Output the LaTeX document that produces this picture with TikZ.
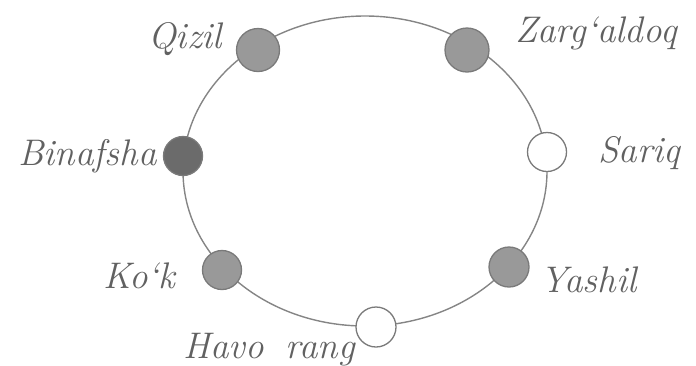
\documentclass[tikz,border=0pt]{standalone}
\usepackage{fontspec}
\begin{document}
\begin{tikzpicture}[x=1pt,y=-1pt,
  ring/.style={draw=black!48,line width=1.4pt},
  dotshape/.style={circle,draw=black!52,line width=1.3pt,inner sep=0pt,minimum size=#1},
  fulldot/.style={dotshape=#1,fill=black!40},
  darkdot/.style={dotshape=#1,fill=black!58},
  opendot/.style={dotshape=#1,fill=white},
  lbl/.style={text=black!62,font=\itshape\fontsize{37}{40}\selectfont,inner sep=0pt}]
\useasboundingbox (0,0) rectangle (696,365);
\draw[ring] (365,171) ellipse [x radius=182pt, y radius=155pt];
\node[fulldot=43pt] (qizil) at (258,50) {};
\node[fulldot=44pt] (zarg) at (467,50) {};
\node[darkdot=39pt] (binafsha) at (183,156) {};
\node[opendot=39pt] (sariq) at (547,152) {};
\node[fulldot=39pt] (kok) at (222,270) {};
\node[fulldot=40pt] (yashil) at (509,267) {};
\node[opendot=40pt] (havo) at (376,327) {};
\node[lbl,anchor=base west] (tqizil) at (148,48) {Qizil};
\node[lbl,anchor=base west] (tzarg) at (515,42) {Zarg‘aldoq};
\node[lbl,anchor=base west] (tbinafsha) at (18,165) {Binafsha};
\node[lbl,anchor=base west] (tsariq) at (598,162) {Sariq};
\node[lbl,anchor=base west] (tkok) at (103,288) {Ko‘k};
\node[lbl,anchor=base west] (tyashil) at (540,292) {Yashil};
\node[lbl,anchor=base west] (thavo) at (183,358) {Havo\hspace{22pt}rang};
\end{tikzpicture}
\end{document}
